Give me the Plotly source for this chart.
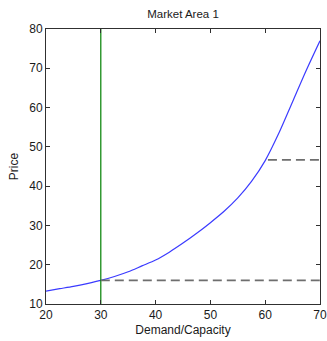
import plotly.graph_objects as go

demand = [20, 22.5, 25, 27.5, 30, 32.5, 35, 37.5, 40, 42.5, 45, 47.5, 50,
          52.5, 55, 57.5, 60, 62.5, 65, 67.5, 70]
price = [13.3, 13.9, 14.5, 15.2, 16.0, 17.0, 18.2, 19.7, 21.2, 23.2, 25.5,
         28.0, 30.7, 33.6, 37.0, 41.2, 46.5, 53.5, 61.5, 69.5, 77.0]

vline_x = [30, 30]
vline_y = [10, 80]
low_dash_x = [30, 70]
low_dash_y = [16.0, 16.0]
high_dash_x = [60.5, 70]
high_dash_y = [46.7, 46.7]

x_ticks = [20, 30, 40, 50, 60, 70]
y_ticks = [10, 20, 30, 40, 50, 60, 70, 80]

fig = go.Figure()
fig.add_trace(go.Scatter(x=demand, y=price, mode="lines",
                         line=dict(color="#3b3bff", width=1.2, shape="spline", smoothing=0.8),
                         showlegend=False))
fig.add_trace(go.Scatter(x=vline_x, y=vline_y, mode="lines",
                         line=dict(color="#008000", width=1.2), showlegend=False))
fig.add_trace(go.Scatter(x=low_dash_x, y=low_dash_y, mode="lines",
                         line=dict(color="#6e6e6e", width=1.8, dash="9px,5px"), showlegend=False))
fig.add_trace(go.Scatter(x=high_dash_x, y=high_dash_y, mode="lines",
                         line=dict(color="#6e6e6e", width=1.8, dash="9px,5px"), showlegend=False))

font = dict(family="Liberation Sans, Arial, sans-serif", size=12, color="#1a1a1a")
axis_common = dict(showgrid=False, zeroline=False, showline=True, linecolor="#303030",
                   linewidth=1, mirror="ticks", ticks="inside", ticklen=4,
                   tickcolor="#303030", tickfont=font, automargin=False)

fig.update_layout(
    width=327, height=341,
    margin=dict(l=46, r=7, t=29, b=37),
    paper_bgcolor="white", plot_bgcolor="white",
    title=dict(text="Market Area 1", x=0.5, xref="paper", xanchor="center",
               y=1 - 14 / 341, yref="container", yanchor="middle",
               font=dict(family="Liberation Sans, Arial, sans-serif", size=11.5, color="#1a1a1a")),
    xaxis=dict(range=[20, 70], tickvals=x_ticks, title=dict(text="Demand/Capacity", font=font, standoff=4),
               **axis_common),
    yaxis=dict(range=[10, 80], tickvals=y_ticks, title=dict(text="Price", font=font, standoff=8),
               **axis_common),
)

fig.write_html("out.html", config={"displayModeBar": False},
               post_script="document.body.style.margin='0';document.body.style.overflow='hidden';")
